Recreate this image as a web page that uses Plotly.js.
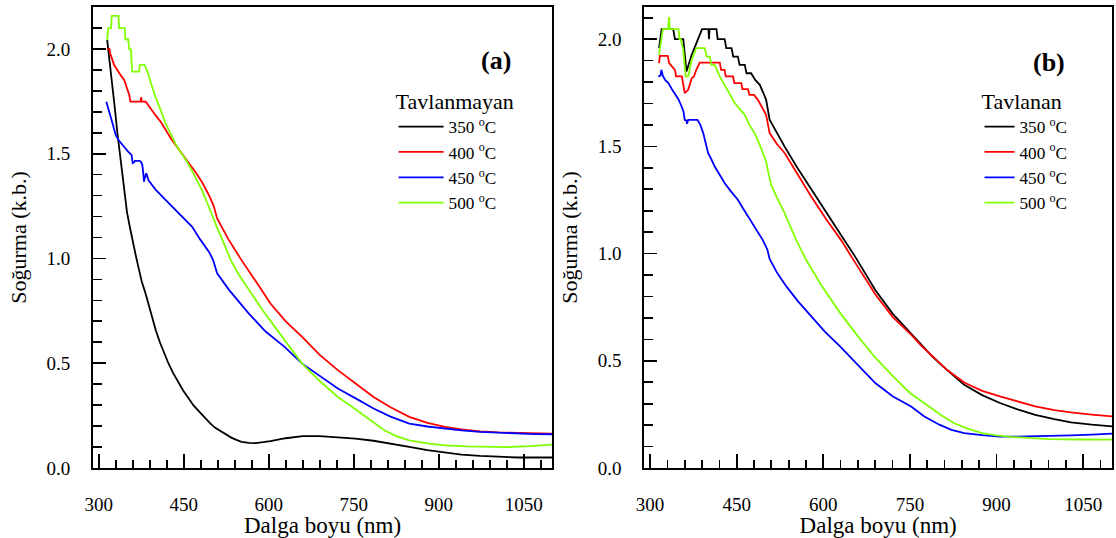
<!DOCTYPE html>
<html><head><meta charset="utf-8">
<script src="https://cdn.plot.ly/plotly-3.0.1.min.js"></script>
<style>html,body{margin:0;padding:0;background:#fff}#chart{width:1116px;height:538px}</style>
</head><body><div id="chart"></div><script>
// ---------- data (a): Tavlanmayan ----------
const seriesNames = ['350 <sup>o</sup>C', '400 <sup>o</sup>C', '450 <sup>o</sup>C', '500 <sup>o</sup>C'];
const seriesColors = ['#000000', '#ff0000', '#0000ff', '#80ff00'];

const a350x = [315, 319, 324, 328, 333, 338, 342, 346, 350, 355, 360, 365, 370, 376, 383, 389, 395, 401, 408, 415, 423, 431, 440, 449, 458, 467, 477, 486, 496, 505, 515, 524, 534, 543, 552, 565, 577, 590, 603, 630, 660, 690, 720, 753, 785, 816, 848, 880, 910, 940, 973, 1005, 1040, 1070, 1100];
const a350y = [2.043, 1.95, 1.84, 1.73, 1.60, 1.48, 1.38, 1.30, 1.22, 1.15, 1.08, 1.02, 0.96, 0.89, 0.83, 0.77, 0.71, 0.655, 0.60, 0.55, 0.50, 0.455, 0.41, 0.37, 0.335, 0.30, 0.27, 0.243, 0.215, 0.193, 0.175, 0.159, 0.145, 0.134, 0.125, 0.12, 0.119, 0.123, 0.128, 0.142, 0.152, 0.152, 0.148, 0.14, 0.13, 0.117, 0.101, 0.085, 0.075, 0.064, 0.058, 0.053, 0.05, 0.05, 0.05];

const a400x = [315, 319, 320, 322, 324, 327, 330, 336, 340, 345, 348, 350, 354, 356, 374, 375, 376, 383, 390, 400, 410, 418, 428, 438, 447, 456, 470, 482, 495, 503, 506, 509, 529, 552, 580, 603, 630, 659, 690, 722, 755, 785, 815, 848, 880, 911, 940, 973, 1005, 1036, 1070, 1100];
const a400y = [2.003, 2.0, 1.98, 1.96, 1.95, 1.924, 1.91, 1.887, 1.87, 1.852, 1.83, 1.812, 1.78, 1.748, 1.748, 1.77, 1.748, 1.748, 1.72, 1.685, 1.65, 1.613, 1.57, 1.533, 1.50, 1.462, 1.415, 1.366, 1.30, 1.25, 1.22, 1.191, 1.091, 0.992, 0.88, 0.785, 0.70, 0.626, 0.54, 0.467, 0.40, 0.339, 0.29, 0.244, 0.215, 0.196, 0.184, 0.175, 0.17, 0.167, 0.165, 0.164];

const a450x = [313.5, 317, 321, 326, 330, 335, 339, 343, 347, 352, 358, 360, 363, 364, 372, 375, 377, 379, 380, 381, 384, 388, 400, 418, 432, 447, 465, 479, 495, 502, 509, 530, 565, 595, 628, 659, 690, 722, 755, 785, 815, 848, 880, 911, 940, 973, 1005, 1040, 1070, 1100];
const a450y = [1.748, 1.71, 1.677, 1.63, 1.589, 1.565, 1.55, 1.54, 1.526, 1.51, 1.494, 1.455, 1.46, 1.466, 1.466, 1.46, 1.447, 1.40, 1.366, 1.38, 1.406, 1.373, 1.33, 1.279, 1.24, 1.199, 1.151, 1.091, 1.03, 0.992, 0.929, 0.85, 0.737, 0.65, 0.578, 0.498, 0.44, 0.379, 0.33, 0.284, 0.245, 0.212, 0.198, 0.188, 0.18, 0.172, 0.168, 0.165, 0.162, 0.161];

const a500x = [315, 317, 322, 323, 335, 336, 346, 347, 352, 354, 357, 359, 371, 373, 381, 386, 393, 400, 409, 418, 426, 435, 445, 456, 469, 482, 493, 503, 510, 518, 533, 548, 565, 590, 615, 637, 659, 690, 722, 748, 772, 790, 804, 825, 848, 880, 911, 950, 985, 1020, 1060, 1100];
const a500y = [2.043, 2.099, 2.099, 2.158, 2.158, 2.099, 2.099, 2.046, 2.046, 1.998, 1.998, 1.892, 1.892, 1.924, 1.924, 1.892, 1.83, 1.772, 1.71, 1.645, 1.60, 1.55, 1.505, 1.462, 1.395, 1.327, 1.255, 1.183, 1.14, 1.091, 0.992, 0.92, 0.849, 0.75, 0.658, 0.575, 0.498, 0.415, 0.339, 0.29, 0.244, 0.21, 0.18, 0.152, 0.132, 0.118, 0.108, 0.103, 0.10, 0.10, 0.104, 0.112];

// ---------- data (b): Tavlanan ----------
const b350x = [315.5, 317, 320, 340, 343, 357.5, 363, 372, 378, 383, 390, 401, 402, 403, 415, 417, 429, 432, 441, 444, 452, 455, 464, 467, 475, 482, 490, 496, 501, 507, 520, 533, 555, 579, 607, 636, 653, 669, 690, 720, 752, 770, 789, 814, 844, 875, 906, 935, 967, 1000, 1029, 1065, 1100];
const b350y = [1.958, 1.997, 2.047, 2.047, 2.0, 2.0, 1.849, 1.927, 1.966, 2.0, 2.047, 2.047, 2.0, 2.047, 2.047, 2.0, 2.0, 1.958, 1.958, 1.919, 1.919, 1.88, 1.88, 1.841, 1.841, 1.81, 1.787, 1.75, 1.717, 1.624, 1.56, 1.499, 1.40, 1.30, 1.18, 1.064, 0.995, 0.925, 0.83, 0.72, 0.625, 0.575, 0.52, 0.458, 0.388, 0.34, 0.303, 0.275, 0.248, 0.228, 0.213, 0.202, 0.194];

const b400x = [315.5, 317, 330.5, 333, 343, 345, 355, 360, 366, 372, 376, 380, 386, 420.7, 423, 429, 431, 443.6, 446, 458, 460, 469.5, 472, 480, 486.7, 495, 501, 507, 520, 533, 555, 579, 605, 630.5, 650, 670, 690, 720, 752, 770, 789, 814, 844, 875, 906, 935, 967, 1000, 1029, 1065, 1100];
const b400y = [1.888, 1.922, 1.922, 1.888, 1.857, 1.826, 1.826, 1.748, 1.764, 1.818, 1.826, 1.857, 1.891, 1.891, 1.857, 1.857, 1.826, 1.826, 1.795, 1.795, 1.767, 1.767, 1.74, 1.74, 1.717, 1.68, 1.647, 1.562, 1.51, 1.469, 1.37, 1.266, 1.16, 1.064, 0.98, 0.895, 0.81, 0.705, 0.622, 0.57, 0.52, 0.458, 0.399, 0.36, 0.334, 0.31, 0.287, 0.27, 0.259, 0.249, 0.241];

const b450x = [314, 318, 319.5, 321, 322, 326, 331.6, 337, 343, 349, 354.6, 358, 360, 363, 364, 366, 382, 387, 392, 396, 400.5, 406, 412, 420, 429, 440, 452, 460, 469.5, 478, 486.7, 495, 503, 507, 520, 536, 557, 579, 603, 629, 660, 690, 720, 752, 775, 801, 822, 844, 875, 906, 935, 967, 1000, 1029, 1065, 1100];
const b450y = [1.826, 1.83, 1.857, 1.84, 1.83, 1.81, 1.795, 1.77, 1.748, 1.72, 1.686, 1.66, 1.624, 1.62, 1.605, 1.624, 1.624, 1.60, 1.562, 1.52, 1.469, 1.44, 1.406, 1.37, 1.329, 1.29, 1.251, 1.215, 1.173, 1.135, 1.096, 1.064, 1.02, 0.975, 0.91, 0.847, 0.775, 0.707, 0.635, 0.567, 0.48, 0.396, 0.335, 0.287, 0.24, 0.202, 0.178, 0.163, 0.153, 0.147, 0.146, 0.147, 0.149, 0.152, 0.156, 0.16];

const b500x = [315.5, 319.5, 322, 331, 333, 334, 349, 351, 353, 357.5, 361.6, 366, 372, 376, 380, 394.8, 398, 403.4, 406, 412, 420, 429, 438, 446.6, 455, 464, 472, 481, 488, 495, 501, 505, 509.6, 520, 533, 553, 570, 598, 630, 660, 690, 721, 750, 783, 805, 826, 850, 875, 900, 924, 960, 992, 1040, 1100];
const b500y = [1.927, 2.0, 2.047, 2.047, 2.103, 2.047, 2.047, 2.0, 2.0, 1.95, 1.826, 1.826, 1.904, 1.93, 1.958, 1.958, 1.919, 1.919, 1.88, 1.88, 1.83, 1.787, 1.74, 1.702, 1.675, 1.647, 1.60, 1.562, 1.52, 1.469, 1.43, 1.375, 1.321, 1.26, 1.189, 1.064, 0.971, 0.847, 0.72, 0.614, 0.515, 0.427, 0.35, 0.287, 0.245, 0.21, 0.184, 0.163, 0.152, 0.145, 0.139, 0.135, 0.133, 0.132];

const xTickVals = [300, 450, 600, 750, 900, 1050];
const yTickVals = [0.0, 0.5, 1.0, 1.5, 2.0];

const panelA = [[a350x, a350y], [a400x, a400y], [a450x, a450y], [a500x, a500y]];
const panelB = [[b350x, b350y], [b400x, b400y], [b450x, b450y], [b500x, b500y]];

const FONT = "'Liberation Serif', 'Times New Roman', serif";
const traces = [];
panelA.forEach((s, i) => traces.push({
  x: s[0], y: s[1], type: 'scatter', mode: 'lines', name: seriesNames[i],
  line: {color: seriesColors[i], width: 1.8}, xaxis: 'x', yaxis: 'y', legend: 'legend'
}));
panelB.forEach((s, i) => traces.push({
  x: s[0], y: s[1], type: 'scatter', mode: 'lines', name: seriesNames[i],
  line: {color: seriesColors[i], width: 1.8}, xaxis: 'x2', yaxis: 'y2', legend: 'legend2'
}));

function xAxis(domain, anchor) {
  return {
    domain: domain, anchor: anchor, range: [290, 1100], tickvals: xTickVals,
    ticktext: xTickVals.map(String),
    ticks: 'inside', ticklen: 14, tickwidth: 1.7, tickcolor: '#000',
    minor: {dtick: 30, tick0: 300, ticks: 'inside', ticklen: 8, tickwidth: 1.7, tickcolor: '#000'},
    showline: true, linecolor: '#000', linewidth: 2, mirror: true,
    showgrid: false, zeroline: false, automargin: true, ticklabelstandoff: 18,
    tickfont: {family: FONT, size: 19, color: '#000'},
    title: {text: 'Dalga boyu (nm)', font: {family: FONT, size: 23, color: '#000'}, standoff: 3}
  };
}
function yAxis(anchor, top) {
  return {
    domain: [0, 1], anchor: anchor, range: [0, top], tickvals: yTickVals,
    ticktext: yTickVals.map(v => v.toFixed(1)),
    ticks: 'inside', ticklen: 13, tickwidth: 1.7, tickcolor: '#000',
    minor: {dtick: 0.1, tick0: 0, ticks: 'inside', ticklen: 9, tickwidth: 1.7, tickcolor: '#000'},
    showline: true, linecolor: '#000', linewidth: 2, mirror: true,
    showgrid: false, zeroline: false, automargin: true, ticklabelstandoff: 17,
    tickfont: {family: FONT, size: 19, color: '#000'},
    title: {text: 'Soğurma (k.b.)', font: {family: FONT, size: 22, color: '#000'}, standoff: 14}
  };
}

const legendBase = (x, title) => ({
  x: x, y: 0.841, xanchor: 'left', yanchor: 'top', bgcolor: 'rgba(0,0,0,0)', borderwidth: 0,
  font: {family: FONT, size: 17.2, color: '#000'},
  title: {text: title, font: {family: FONT, size: 22, color: '#000'}, side: 'top'},
  tracegroupgap: 0
});

const layout = {
  width: 1116, height: 538,
  margin: {l: 93.3, r: 1.7, t: 6.7, b: 70, pad: 0},
  paper_bgcolor: '#fff', plot_bgcolor: '#fff',
  showlegend: true,
  xaxis: xAxis([0, 0.45054], 'y'),
  yaxis: yAxis('x', 2.2),
  xaxis2: xAxis([0.54104, 1], 'y2'),
  yaxis2: yAxis('x2', 2.15),
  legend: Object.assign(legendBase(0.295, 'Tavlanmayan'), {itemwidth: 45}),
  legend2: Object.assign(legendBase(0.870, 'Tavlanan'), {itemwidth: 30}),
  annotations: [
    {text: '<b>(a)</b>', xref: 'paper', yref: 'paper', x: 0.3954, y: 0.884, showarrow: false,
     font: {family: FONT, size: 26, color: '#000'}, xanchor: 'center', yanchor: 'middle'},
    {text: '<b>(b)</b>', xref: 'paper', yref: 'paper', x: 0.938, y: 0.880, showarrow: false,
     font: {family: FONT, size: 26, color: '#000'}, xanchor: 'center', yanchor: 'middle'}
  ]
};

Plotly.newPlot('chart', traces, layout, {displayModeBar: false, staticPlot: true});
</script></body></html>
